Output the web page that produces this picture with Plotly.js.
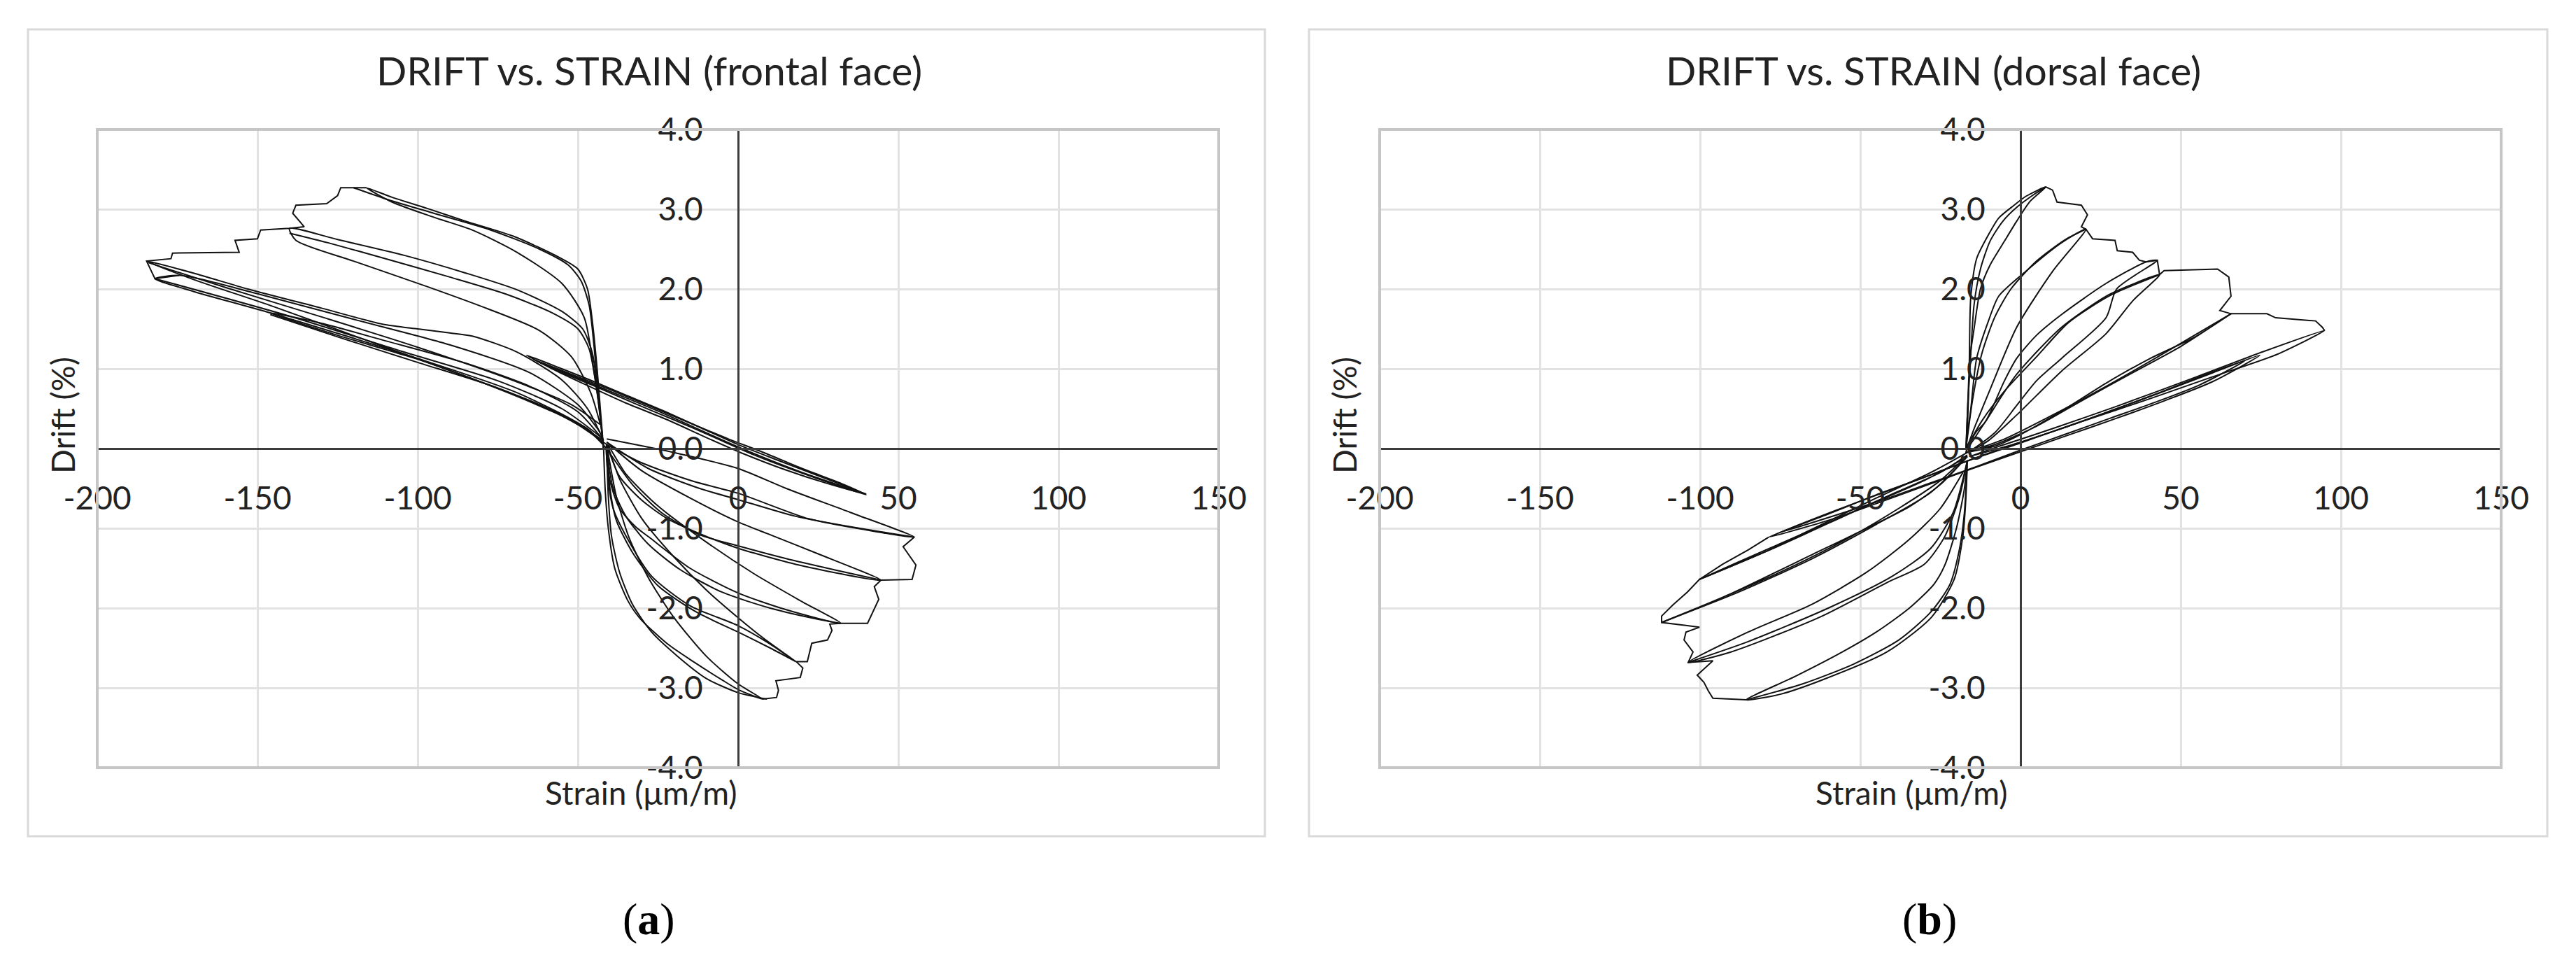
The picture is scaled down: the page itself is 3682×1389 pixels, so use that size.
<!DOCTYPE html>
<html>
<head>
<meta charset="utf-8">
<script src="https://cdn.plot.ly/plotly-3.0.1.min.js"></script>
<style>html,body{margin:0;padding:0;background:#fff}</style>
</head>
<body>
<div id="chart" style="width:3682px;height:1389px"></div>
<script>
// tick values / labels (Excel style, plain hyphen)
var xTickVals = [-200, -150, -100, -50, 0, 50, 100, 150];
var xTickText = ['-200', '-150', '-100', '-50', '0', '50', '100', '150'];
var yTickVals = [-4, -3, -2, -1, 0, 1, 2, 3, 4];
var yTickText = ['-4.0', '-3.0', '-2.0', '-1.0', '0.0', '1.0', '2.0', '3.0', '4.0'];

// frontal face: smooth hysteresis branches (strain, drift)
var frontalLoopStrain = [
  [-66,-55,-45,-35,-22,-10,0,12,25,39,28,15,2,-10,-22,-35,-47,-57,-66],
  [-64,-52,-40,-28,-15,-3,8,20,33,40,30,18,5,-8,-20,-32,-44,-55,-64],
  [-62,-45,-25,0,20,40],
  [-41,-30,-14,0,22,40,55,35,15,0,-20,-41],
  [-41,-28,-12,0,18,38,55],
  [-41,-37,-30,-22,-10,0,20,44.6,25,10,0,-15,-30,-41],
  [-41,-33,-24,-12,0,15,30,44.6],
  [-41,-40,-37,-32,-27.8,-15,0,15,32,20,5,-10,-25,-35,-41],
  [-41,-39,-35,-28,-18,-5,10,25,32],
  [-41,-40.5,-39,-34.8,-27,-15,0,10,18,8,0,-10,-20,-30,-37,-41],
  [-41,-40,-38,-33,-25,-13,0,10,18],
  [-42,-41.5,-40.5,-38.5,-34.5,-30.6,-22,-14,-5,0,7.6,0,-10,-20,-28,-34,-38,-41],
  [-41,-40.5,-39.5,-37,-33,-27,-19,-10,0,9],
  [-41,-50,-62,-78,-100,-125,-146,-130,-110,-85,-65,-50,-42],
  [-42,-55,-75,-100,-125,-146],
  [-41,-48,-69,-100,-146,-170,-182,-174,-150,-120,-90,-65,-50,-43],
  [-43,-55,-75,-105,-140,-182],
  [-42,-47,-60,-80,-110,-145,-170,-184.6,-170,-153,-130,-111,-100,-90,-83,-69,-55,-47,-42],
  [-43,-52,-70,-100,-130,-160,-184],
  [-42,-43.5,-45.5,-48.5,-55,-69,-85,-104,-125,-140,-138,-120,-97,-78,-62,-52,-46,-43],
  [-42,-44,-46.5,-50,-58,-72,-90,-110,-128,-140],
  [-42,-43,-44,-45.5,-47,-50,-56,-70,-85,-97,-108,-116,-108,-95,-83,-69,-55,-48,-45,-43,-42],
  [-42,-43.5,-45,-46.5,-49,-53,-62,-78,-95,-110,-120]
];
var frontalLoopDrift = [
  [1.17,1.00,0.84,0.67,0.45,0.23,0.05,-0.14,-0.34,-0.56,-0.44,-0.27,-0.07,0.14,0.36,0.57,0.79,0.98,1.17],
  [1.12,0.93,0.74,0.54,0.32,0.12,-0.05,-0.25,-0.45,-0.58,-0.45,-0.28,-0.08,0.15,0.36,0.56,0.77,0.95,1.12],
  [1.08,0.8,0.47,0.02,-0.3,-0.57],
  [0.05,-0.18,-0.41,-0.56,-0.88,-1.02,-1.11,-0.80,-0.50,-0.25,-0.05,0.12],
  [0.08,-0.25,-0.5,-0.64,-0.85,-1.0,-1.11],
  [0.05,-0.35,-0.65,-0.88,-1.1,-1.25,-1.47,-1.65,-1.32,-1.08,-0.92,-0.62,-0.28,0.08],
  [0,-0.45,-0.8,-1.08,-1.22,-1.38,-1.52,-1.65],
  [0.05,-0.4,-0.75,-0.98,-1.11,-1.5,-1.81,-2.02,-2.19,-1.92,-1.57,-1.17,-0.72,-0.32,0.05],
  [0.0,-0.5,-0.85,-1.2,-1.52,-1.8,-2.0,-2.14,-2.19],
  [0.05,-0.4,-0.75,-1.11,-1.6,-1.97,-2.22,-2.45,-2.67,-2.38,-2.12,-1.77,-1.36,-0.88,-0.38,0.05],
  [0,-0.5,-0.9,-1.3,-1.72,-2.05,-2.3,-2.5,-2.67],
  [0.05,-0.5,-1.0,-1.5,-1.9,-2.13,-2.45,-2.67,-2.9,-3.02,-3.14,-2.95,-2.6,-2.12,-1.62,-1.12,-0.6,0.05],
  [0.0,-0.6,-1.1,-1.55,-1.95,-2.3,-2.6,-2.88,-3.06,-3.14],
  [0.05,0.3,0.55,0.8,1.12,1.42,1.70,1.57,1.35,1.07,0.78,0.46,0.1],
  [0.1,0.42,0.76,1.08,1.40,1.68],
  [0.0,0.27,0.70,1.13,1.70,1.97,2.13,2.17,1.94,1.62,1.3,0.95,0.55,0.2],
  [0.15,0.5,0.85,1.22,1.66,2.13],
  [0.05,0.25,0.5,0.83,1.27,1.78,2.12,2.35,2.2,2.0,1.76,1.56,1.5,1.45,1.41,1.21,0.86,0.5,0.1],
  [0.3,0.55,0.85,1.27,1.65,2.02,2.33],
  [0.0,0.6,1.2,1.5,1.72,1.99,2.2,2.42,2.62,2.76,2.61,2.35,2.03,1.75,1.48,1.15,0.7,0.3],
  [0,0.7,1.25,1.5,1.7,1.93,2.15,2.38,2.58,2.7],
  [0,0.5,1.0,1.6,2.0,2.25,2.4,2.66,2.85,3.01,3.15,3.27,3.09,2.9,2.74,2.46,2.07,1.64,0.98,0.4,0],
  [0,0.6,1.3,1.8,2.1,2.3,2.5,2.75,2.95,3.13,3.27]
];
// frontal face: jagged peak-to-peak segments
var frontalStepStrain = [
  [-116,-124,-125,-128.4,-138,-139,-135.4,-140,-149,-150,-157,-155.7,-176.5,-177,-184.6,-182,-174.5],
  [7.6,12,12.6,11.8,19.4,20.2,18.1,21.6,23,27.9,29.3,28.6,32,40.4,43.9,42.5,44.6,54.3,55.5,51.5,55]
];
var frontalStepDrift = [
  [3.27,3.27,3.17,3.07,3.05,2.95,2.78,2.76,2.74,2.63,2.61,2.46,2.45,2.38,2.35,2.13,2.17],
  [-3.14,-3.12,-3.03,-2.91,-2.87,-2.75,-2.67,-2.67,-2.44,-2.40,-2.28,-2.20,-2.19,-2.19,-1.89,-1.73,-1.65,-1.64,-1.46,-1.23,-1.11]
];

// dorsal face: smooth hysteresis branches
var dorsalLoopStrain = [
  [-78.6,-60,-45,-30,-15,0,15,30,45,60,74.7,60,45,30,15,0,-15,-30,-45,-60,-78.6],
  [-75,-58,-42,-28,-14,0,14,28,42,56,70,56,42,28,14,0,-14,-28,-42,-58,-75],
  [-16,-5,10,30,55,75.4,94.9,80,60,40,20,0,-16],
  [-17,-8,-1.2,12,26.7,40,54.5,65.7,50,35,20,5,-8,-17],
  [-17,-5,10,26.7,45,65.7],
  [-17,-14,-10.9,-1.2,12.8,26.7,35,43.4,35,26.7,12.8,-1.2,-10,-17],
  [-17,-12,-5,5,15,28,43.4],
  [-17,-14,-10.9,-5,-1.2,5,12.8,26.7,39.2,42.7,30,26.7,12.8,5,-1.2,-8,-17],
  [-17,-15.5,-13.7,-10,-6.8,1.6,12.8,20.4,10,-1.2,-9.5,-14,-17],
  [-17,-15,-12,-8,-3,5,14,20.4],
  [-17,-16.5,-16,-15.8,-15.5,-13.7,-10,-6.8,-2,1.6,7.9,3,-1.2,-5,-9.5,-12.5,-14.5,-15.8,-16.5,-17],
  [-17,-16.5,-15.5,-14.5,-12.5,-9.5,-5.5,-1,4,7.9],
  [-16.6,-30,-48.7,-76.5,-100.2,-80,-60,-40,-25,-16.6],
  [-16.6,-28,-45,-62,-80,-100.2],
  [-16.6,-25,-34.7,-48,-62.5,-90.4,-104,-112,-95,-75,-55,-38,-25,-17],
  [-16.6,-28,-45,-65,-88,-112],
  [-16.6,-19,-23.6,-30,-41.7,-62.5,-90.4,-103.7,-85,-65,-48,-35,-25,-18],
  [-16.6,-21,-28,-40,-60,-85,-103.7],
  [-16.6,-17.2,-18,-20.7,-27.7,-41.7,-62.5,-75,-85.6,-70,-55.6,-45,-34.7,-27,-23.6,-20,-17.5,-16.6],
  [-16.6,-17.5,-19,-22,-28,-38,-52,-68,-85.6]
];
var dorsalLoopDrift = [
  [-1.11,-0.90,-0.69,-0.47,-0.25,-0.04,0.17,0.38,0.6,0.84,1.17,0.95,0.72,0.5,0.28,0.08,-0.13,-0.36,-0.58,-0.82,-1.11],
  [-1.05,-0.84,-0.63,-0.43,-0.23,-0.02,0.18,0.38,0.58,0.8,1.1,0.9,0.68,0.47,0.27,0.07,-0.12,-0.33,-0.54,-0.78,-1.05],
  [-0.1,0.05,0.25,0.53,0.9,1.21,1.48,1.18,0.9,0.62,0.35,0.08,-0.1],
  [-0.05,0.03,0.15,0.45,0.82,1.12,1.40,1.69,1.28,0.95,0.62,0.28,0.05,-0.05],
  [-0.05,0.12,0.42,0.78,1.2,1.69],
  [-0.05,0.15,0.34,0.93,1.52,1.91,2.06,2.18,1.85,1.44,0.97,0.42,0.1,-0.05],
  [0,0.35,0.72,1.15,1.58,1.92,2.18],
  [-0.05,0.2,0.34,0.85,1.13,1.42,1.68,2.07,2.34,2.36,2.0,1.64,1.13,0.85,0.54,0.2,-0.05],
  [0,0.5,1.13,1.6,1.91,2.22,2.58,2.75,2.22,1.52,0.74,0.3,0],
  [0,0.6,1.2,1.65,2.0,2.35,2.62,2.75],
  [0,0.34,1.0,1.6,1.91,2.38,2.68,2.89,3.05,3.16,3.28,3.1,2.85,2.6,2.3,2.0,1.5,1.13,0.5,0],
  [0,0.5,1.2,1.8,2.25,2.6,2.85,3.03,3.18,3.28],
  [-0.1,-0.4,-0.73,-1.24,-1.64,-1.28,-0.93,-0.57,-0.3,-0.08],
  [-0.05,-0.3,-0.62,-0.95,-1.3,-1.64],
  [-0.1,-0.45,-0.73,-1.0,-1.28,-1.82,-2.05,-2.18,-1.9,-1.55,-1.15,-0.75,-0.4,-0.1],
  [-0.1,-0.55,-0.95,-1.38,-1.8,-2.18],
  [-0.15,-0.6,-1.10,-1.45,-1.68,-2.11,-2.55,-2.68,-2.3,-1.95,-1.55,-1.15,-0.75,-0.3],
  [-0.15,-0.8,-1.25,-1.6,-2.0,-2.42,-2.68],
  [-0.15,-0.73,-1.10,-1.64,-2.11,-2.55,-2.91,-3.08,-3.15,-2.85,-2.55,-2.3,-2.0,-1.7,-1.46,-1.0,-0.5,-0.15],
  [-0.15,-0.8,-1.25,-1.7,-2.05,-2.4,-2.7,-2.95,-3.15]
];
// dorsal face: jagged peak-to-peak segments
var dorsalStepStrain = [
  [7.9,10,11.4,19,20.9,19,20.4,22.5,29.5,30.2,35,37.1,39.2,42.7,43.4,44.8,61.5,65,65.7,62.2,65.7,68,76.9,79.6,92.1,94.2,94.9],
  [-78.6,-85,-93,-100.2,-104,-108.5,-112,-112,-104,-100.2,-104.4,-105,-102.2,-103.7,-96,-100.9,-98.8,-97.4,-96,-85.6]
];
var dorsalStepDrift = [
  [3.28,3.24,3.09,3.05,2.93,2.78,2.75,2.63,2.61,2.48,2.46,2.36,2.34,2.36,2.18,2.23,2.25,2.15,1.91,1.73,1.69,1.69,1.69,1.64,1.60,1.52,1.48],
  [-1.11,-1.27,-1.45,-1.64,-1.8,-1.96,-2.1,-2.18,-2.22,-2.24,-2.30,-2.40,-2.55,-2.68,-2.66,-2.84,-2.93,-3.04,-3.13,-3.15]
];

var W = 3682, H = 1389;
var textFont = 'Lato, "Open Sans", sans-serif';
var inkColor = '#222';

var data = [];
function addSegs(xs, ys, xa, ya, shape) {
  for (var i = 0; i < xs.length; i++) {
    data.push({
      x: xs[i], y: ys[i], xaxis: xa, yaxis: ya,
      mode: 'lines', hoverinfo: 'skip', showlegend: false,
      line: {color: '#111', width: 2, shape: shape, smoothing: 0.7}
    });
  }
}
addSegs(frontalLoopStrain, frontalLoopDrift, 'x', 'y', 'spline');
addSegs(frontalStepStrain, frontalStepDrift, 'x', 'y', 'linear');
addSegs(dorsalLoopStrain, dorsalLoopDrift, 'x2', 'y2', 'spline');
addSegs(dorsalStepStrain, dorsalStepDrift, 'x2', 'y2', 'linear');

var yDom = [1 - 1097 / H, 1 - 185 / H];
var xDomA = [139 / W, 1742 / W];
var xDomB = [1972 / W, 3575 / W];
var xRange = [-200, 150];
var yRange = [-4, 4];

function zeroPos(dom, rng) {
  return dom[0] + (0 - rng[0]) / (rng[1] - rng[0]) * (dom[1] - dom[0]);
}

function xAxis(dom) {
  return {
    domain: dom, range: xRange, tickmode: 'array', tickvals: xTickVals, ticktext: xTickText,
    showgrid: true, gridcolor: '#e2e2e2', gridwidth: 3, zeroline: false,
    showline: true, linecolor: '#3c3c3c', linewidth: 2.5,
    anchor: 'free', position: zeroPos(yDom, yRange),
    ticks: '', ticklabelstandoff: 30,
    tickfont: {family: textFont, size: 46, color: inkColor}, fixedrange: true
  };
}
function yAxis(dom) {
  return {
    domain: yDom, range: yRange, tickmode: 'array', tickvals: yTickVals, ticktext: yTickText,
    showgrid: true, gridcolor: '#e2e2e2', gridwidth: 3, zeroline: false,
    showline: true, linecolor: '#3c3c3c', linewidth: 2.5,
    anchor: 'free', position: zeroPos(dom, xRange),
    ticks: '', ticklabelstandoff: 40,
    tickfont: {family: textFont, size: 46, color: inkColor}, fixedrange: true
  };
}

function note(text, x, y, size, extra) {
  var a = {text: text, xref: 'paper', yref: 'paper', x: x, y: y,
    xanchor: 'center', yanchor: 'middle', showarrow: false,
    font: {family: textFont, size: size, color: inkColor}};
  for (var k in extra) a[k] = extra[k];
  return a;
}

var layout = {
  width: W, height: H,
  margin: {l: 0, r: 0, t: 0, b: 0},
  paper_bgcolor: '#fff', plot_bgcolor: '#fff',
  showlegend: false,
  xaxis: xAxis(xDomA), yaxis: yAxis(xDomA),
  xaxis2: xAxis(xDomB), yaxis2: yAxis(xDomB),
  shapes: [
    {type: 'rect', xref: 'paper', yref: 'paper', x0: 40 / W, x1: 1808 / W, y0: 1 - 1195 / H, y1: 1 - 42 / H,
      line: {color: '#d9d9d9', width: 3}, layer: 'below'},
    {type: 'rect', xref: 'paper', yref: 'paper', x0: 1871 / W, x1: 3641 / W, y0: 1 - 1195 / H, y1: 1 - 42 / H,
      line: {color: '#d9d9d9', width: 3}, layer: 'below'},
    {type: 'rect', xref: 'x domain', yref: 'y domain', x0: 0, x1: 1, y0: 0, y1: 1,
      line: {color: '#c6c6c6', width: 4}},
    {type: 'rect', xref: 'x2 domain', yref: 'y2 domain', x0: 0, x1: 1, y0: 0, y1: 1,
      line: {color: '#c6c6c6', width: 4}}
  ],
  annotations: [
    note('DRIFT vs. STRAIN (frontal face)', 928 / W, 1 - 100 / H, 57),
    note('DRIFT vs. STRAIN (dorsal face)', 2763 / W, 1 - 100 / H, 57),
    note('Drift (%)', 89 / W, 1 - 594 / H, 46, {textangle: -90}),
    note('Drift (%)', 1921 / W, 1 - 594 / H, 46, {textangle: -90}),
    note('Strain (μm/m)', 916 / W, 1 - 1132 / H, 46),
    note('Strain (μm/m)', 2732 / W, 1 - 1132 / H, 46),
    note('(<b>a</b>)', 927 / W, 1 - 1313 / H, 64, {font: {family: '"Liberation Serif", serif', size: 64, color: '#000'}}),
    note('(<b>b</b>)', 2758 / W, 1 - 1313 / H, 64, {font: {family: '"Liberation Serif", serif', size: 64, color: '#000'}})
  ]
};

Plotly.newPlot('chart', data, layout, {staticPlot: true, displayModeBar: false});
</script>
</body>
</html>
